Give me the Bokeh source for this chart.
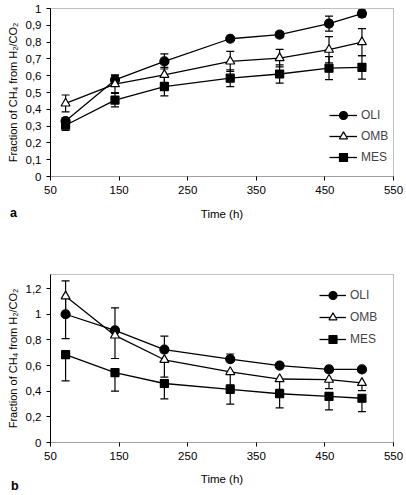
from bokeh.plotting import figure
from bokeh.layouts import column
from bokeh.models import (Range1d, FixedTicker, Whisker, TeeHead, ColumnDataSource,
                          Legend, LegendItem, Div)
from bokeh.embed import file_html
from bokeh.resources import INLINE

# ---------------- data ----------------
time_h = [72, 144, 216, 312, 384, 456, 504]

# panel a
oli_a = [0.33, 0.575, 0.685, 0.82, 0.845, 0.91, 0.97]
omb_a = [0.435, 0.55, 0.605, 0.685, 0.705, 0.755, 0.80]
mes_a = [0.305, 0.455, 0.535, 0.585, 0.61, 0.645, 0.65]
oli_a_err = [0.02, 0.03, 0.045, 0.01, 0.015, 0.045, 0.02]
omb_a_err = [0.05, 0.05, 0.045, 0.06, 0.052, 0.078, 0.08]
mes_a_err = [0.03, 0.04, 0.055, 0.05, 0.054, 0.068, 0.07]

# panel b
oli_b = [1.0, 0.875, 0.725, 0.65, 0.60, 0.57, 0.57]
omb_b = [1.14, 0.835, 0.645, 0.55, 0.495, 0.49, 0.465]
mes_b = [0.685, 0.545, 0.46, 0.415, 0.38, 0.36, 0.345]
oli_b_err_up = [0.26, 0.175, 0.105, 0.04, 0.01, 0.01, 0.01]
omb_b_err_down = [0.33, 0.18, 0.135, 0.10, 0.08, 0.07, 0.06]
mes_b_err_down = [0.205, 0.145, 0.12, 0.115, 0.11, 0.105, 0.105]

series_names = ["OLI", "OMB", "MES"]
panel_letters = ["a", "b"]
x_ticks = [50, 150, 250, 350, 450, 550]
y_ticks_a = [0, 0.1, 0.2, 0.3, 0.4, 0.5, 0.6, 0.7, 0.8, 0.9, 1.0]
y_labels_a = ["0", "0,1", "0,2", "0,3", "0,4", "0,5", "0,6", "0,7", "0,8", "0,9", "1"]
y_ticks_b = [0, 0.2, 0.4, 0.6, 0.8, 1.0, 1.2]
y_labels_b = ["0", "0,2", "0,4", "0,6", "0,8", "1", "1,2"]

FONT = "Liberation Sans"
MARKERS = {"OLI": ("circle", "black", 9), "OMB": ("triangle", "white", 9), "MES": ("square", "black", 8)}

W = 406


def make_fig(height, left, right, top, bottom, y_end, yt, yl, lab_standoff):
    p = figure(width=W, height=height, output_backend="svg", toolbar_location=None,
               x_range=Range1d(50, 550), y_range=Range1d(0, y_end),
               min_border_left=left, min_border_right=right, min_border_top=top,
               min_border_bottom=bottom)
    p.xgrid.visible = False
    p.ygrid.visible = False
    p.outline_line_color = "#808080"
    p.outline_line_dash = "1 1"
    p.outline_line_width = 1
    p.xaxis.ticker = FixedTicker(ticks=x_ticks)
    p.yaxis.ticker = FixedTicker(ticks=yt)
    p.yaxis.major_label_overrides = {t: l for t, l in zip(yt, yl)}
    for ax in (p.xaxis[0], p.yaxis[0]):
        ax.major_tick_in = 0
        ax.major_tick_out = 4
        ax.minor_tick_in = 0
        ax.minor_tick_out = 0
        ax.major_label_text_font = FONT
        ax.major_label_text_font_size = "11.5px"
        ax.major_label_text_color = "black"
        ax.axis_label_text_font = FONT
        ax.axis_label_text_font_style = "normal"
        ax.axis_label_text_color = "black"
        ax.major_tick_line_color = "black"
    p.xaxis.axis_line_color = "#808080"
    p.xaxis.axis_line_dash = "1 1"
    p.yaxis.axis_line_color = "black"
    p.xaxis.major_label_standoff = 5
    p.yaxis.major_label_standoff = 5
    p.xaxis.axis_label = "Time (h)"
    p.xaxis.axis_label_text_font_size = "11.5px"
    p.xaxis.axis_label_standoff = lab_standoff
    p.yaxis.axis_label = "Fraction of CH\u2084 from H\u2082/CO\u2082"
    p.yaxis.axis_label_text_font_size = "11px"
    p.yaxis.axis_label_standoff = 4
    return p


def add_whisker(p, x, y, d, up):
    base = list(x)
    if up:
        lo = list(y)
        hi = [a + b for a, b in zip(y, d)]
        w = Whisker(base="x", lower="lo", upper="hi",
                    source=ColumnDataSource(dict(x=base, lo=lo, hi=hi)),
                    upper_head=TeeHead(size=8, line_width=1.2), lower_head=None,
                    line_width=1.2, line_color="black", level="underlay")
    else:
        hi = list(y)
        lo = [a - b for a, b in zip(y, d)]
        w = Whisker(base="x", lower="lo", upper="hi",
                    source=ColumnDataSource(dict(x=base, lo=lo, hi=hi)),
                    lower_head=TeeHead(size=8, line_width=1.2), upper_head=None,
                    line_width=1.2, line_color="black", level="underlay")
    p.add_layout(w)


def add_series(p, name, ys):
    marker, fill, size = MARKERS[name]
    lr = p.line(time_h, ys, line_color="black", line_width=1.3)
    sr = p.scatter(time_h, ys, marker=marker, size=size, fill_color=fill,
                   line_color="black", line_width=1.2)
    return LegendItem(label=name, renderers=[lr, sr])


def add_legend(p, items, loc, spacing, gw):
    lg = Legend(items=items, location=loc, padding=0, margin=0, border_line_color=None,
                background_fill_alpha=0, glyph_width=gw, glyph_height=20, spacing=spacing,
                label_standoff=4, label_text_font=FONT, label_text_font_size="12px",
                label_height=14)
    p.add_layout(lg)


def letter_div(txt, left, top):
    return Div(text=txt, width=12, height=14,
               styles={"position": "absolute", "left": f"{left}px", "top": f"{top}px",
                       "font-family": FONT, "font-weight": "bold", "font-size": "12.5px",
                       "color": "black", "line-height": "14px"})


# panel a  (frame 50..395 x 8..176)
pa = make_fig(240, 50, 11, 8, 64, 1.0, y_ticks_a, y_labels_a, 11)
for ys_, err in [(oli_a, oli_a_err), (omb_a, omb_a_err), (mes_a, mes_a_err)]:
    add_whisker(pa, time_h, ys_, err, True)
    add_whisker(pa, time_h, ys_, err, False)
items_a = [add_series(pa, n, ys_) for n, ys_ in zip(series_names, [oli_a, omb_a, mes_a])]
add_legend(pa, items_a, (279, 9), 1, 28)

# panel b  (frame 49..393 x 274..442)
pb = make_fig(255, 49, 13, 34, 53, 1.31, y_ticks_b, y_labels_b, 10)
add_whisker(pb, time_h, oli_b, oli_b_err_up, True)
add_whisker(pb, time_h, omb_b, omb_b_err_down, False)
add_whisker(pb, time_h, mes_b, mes_b_err_down, False)
items_b = [add_series(pb, n, ys_) for n, ys_ in zip(series_names, [oli_b, omb_b, mes_b])]
add_legend(pb, items_b, (269, 93), 2, 27)

layout = column(pa, pb, letter_div(panel_letters[0], 5, 201),
                letter_div(panel_letters[1], 6, 474), spacing=0)
open("out.html", "w").write(file_html(layout, INLINE))
